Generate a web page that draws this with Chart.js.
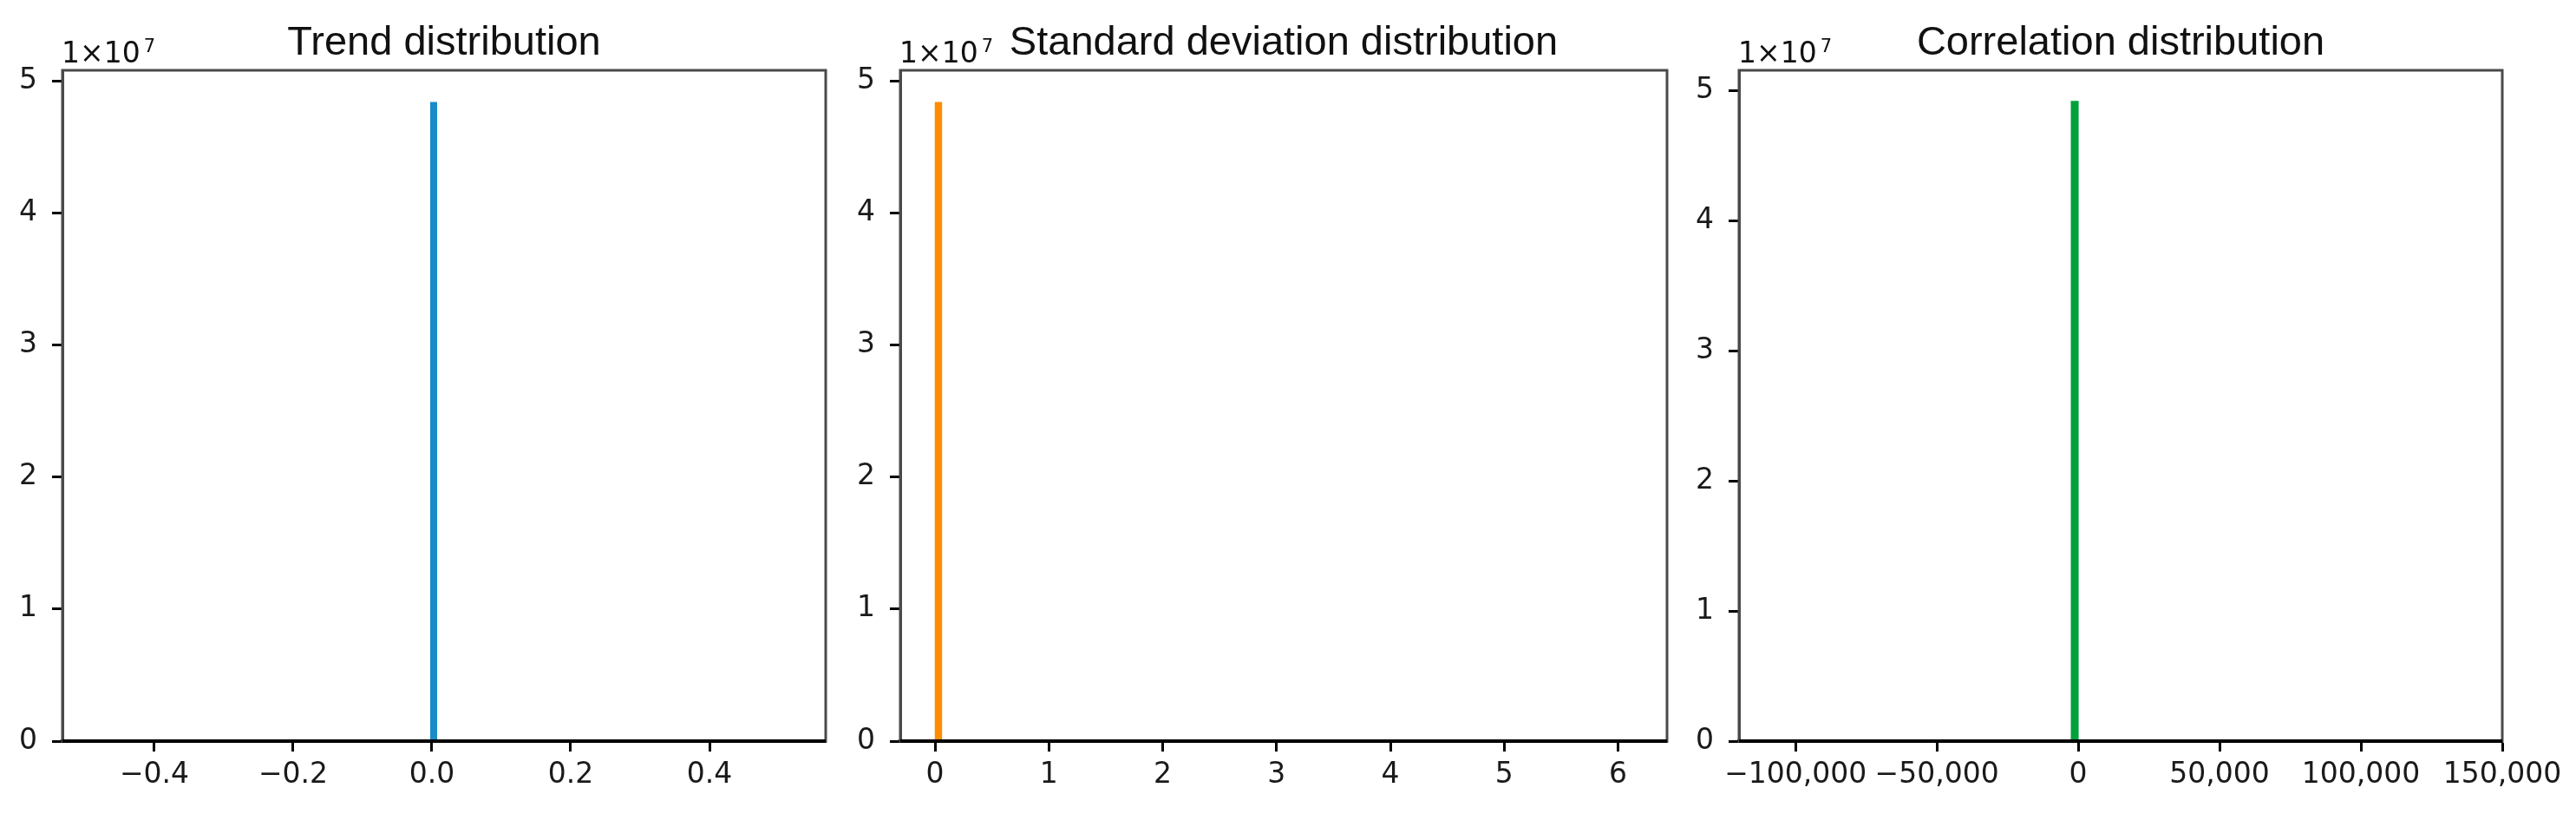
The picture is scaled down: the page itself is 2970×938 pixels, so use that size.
<!DOCTYPE html>
<html>
<head>
<meta charset="utf-8">
<script src="https://cdn.jsdelivr.net/npm/chart.js@4.4.1/dist/chart.umd.min.js"></script>
<style>
html, body { margin: 0; padding: 0; background: #fff; }
body { width: 2970px; height: 938px; position: relative; overflow: hidden; }
.panel { position: absolute; top: 0; height: 938px; }
</style>
</head>
<body>
<div class="panel" style="left:0px;width:990px"><canvas id="trendPlot"></canvas></div>
<div class="panel" style="left:966px;width:994px"><canvas id="stdPlot"></canvas></div>
<div class="panel" style="left:1933px;width:1037px"><canvas id="corrPlot"></canvas></div>
<script>
// Histogram bins (only the non empty bin of each histogram)
var trendBinStarts = [-0.0025];
var trendBinEnds = [0.0075];
var trendCounts = [48400000];

var stdBinStarts = [-0.004];
var stdBinEnds = [0.064];
var stdCounts = [48400000];

var corrBinStarts = [-2700];
var corrBinEnds = [200];
var corrCounts = [49200000];

// Tick labels
var trendTicks = [-0.4, -0.2, 0, 0.2, 0.4];
var stdTicks = [0, 1, 2, 3, 4, 5, 6];
var corrTicks = [-100000, -50000, 0, 50000, 100000, 150000];
var countTicks = [0, 1e7, 2e7, 3e7, 4e7, 5e7];

// Axis limits
var trendRange = [-0.5325, 0.5675];
var stdRange = [-0.305, 6.43];
var corrRange = [-120000, 150000];
var trendCountMax = 5.08e7;
var stdCountMax = 5.08e7;
var corrCountMax = 5.155e7;

var TICK_FONT = { family: "'DejaVu Sans'", size: 33 };

function _histPoints(starts, ends, counts)
{
    var points = [];
    for (var i = 0; i < counts.length; i++) {
        points.push({x: starts[i], y: 0});
        points.push({x: starts[i], y: counts[i]});
        points.push({x: ends[i], y: counts[i]});
        points.push({x: ends[i], y: 0});
    }
    return points;
}

function _minus(s)
{
    return String(s).replace('-', '\u2212');
}

var framePlugin = {
    id: 'frame',
    afterDraw: function(chart) {
        var ctx = chart.ctx;
        var a = chart.chartArea;
        var title = chart.options.plugins.frame.title;
        ctx.save();
        ctx.strokeStyle = '#4a4a4a';
        ctx.lineWidth = 3;
        ctx.strokeRect(a.left, a.top, a.right - a.left, a.bottom - a.top);
        ctx.strokeStyle = '#000';
        ctx.lineWidth = 4;
        ctx.beginPath();
        ctx.moveTo(a.left, a.bottom);
        ctx.lineTo(a.right, a.bottom);
        ctx.stroke();

        ctx.fillStyle = '#111';
        ctx.font = "47px 'Liberation Sans'";
        ctx.textAlign = 'center';
        ctx.textBaseline = 'alphabetic';
        ctx.fillText(title, (a.left + a.right) / 2, 63);

        ctx.textAlign = 'left';
        ctx.font = "33px 'DejaVu Sans'";
        ctx.fillText('1\u00d710', a.left - 1, 72);
        var w = ctx.measureText('1\u00d710').width;
        ctx.font = "21px 'DejaVu Sans'";
        ctx.fillText('7', a.left - 1 + w + 4, 60);
        ctx.restore();
    }
};

function _generateHistogram(canvasId, title, points, color, xRange, xTicks, xFormat, yMax, rightPad)
{
    new Chart(document.getElementById(canvasId), {
        type: 'line',
        data: {
            datasets: [{
                data: points,
                borderWidth: 0,
                borderColor: color,
                backgroundColor: color,
                pointRadius: 0,
                fill: 'origin',
                tension: 0
            }]
        },
        options: {
            responsive: true,
            maintainAspectRatio: false,
            devicePixelRatio: 1,
            animation: false,
            layout: { padding: { top: 81, right: rightPad, left: 0, bottom: 0 } },
            plugins: {
                legend: { display: false },
                tooltip: { enabled: false },
                frame: { title: title }
            },
            scales: {
                x: {
                    type: 'linear',
                    min: xRange[0],
                    max: xRange[1],
                    afterBuildTicks: function(scale) {
                        scale.ticks = xTicks.map(function(v) { return {value: v}; });
                    },
                    afterFit: function(scale) { scale.height = 84; },
                    grid: { drawOnChartArea: false, drawTicks: true, tickLength: 12, tickWidth: 3, tickColor: '#000' },
                    border: { display: true, color: '#000', width: 4 },
                    ticks: {
                        font: TICK_FONT,
                        color: '#1a1a1a',
                        padding: 8,
                        maxRotation: 0,
                        autoSkip: false,
                        callback: xFormat
                    }
                },
                y: {
                    type: 'linear',
                    min: 0,
                    max: yMax,
                    afterBuildTicks: function(scale) {
                        scale.ticks = countTicks.map(function(v) { return {value: v}; });
                    },
                    afterFit: function(scale) { scale.width = 72; },
                    grid: { drawOnChartArea: false, drawTicks: true, tickLength: 12, tickWidth: 3, tickColor: '#000' },
                    border: { display: true, color: '#4a4a4a', width: 3 },
                    ticks: {
                        font: TICK_FONT,
                        color: '#1a1a1a',
                        padding: 17,
                        autoSkip: false,
                        callback: function(v) { return String(Math.round(v / 1e7)); }
                    }
                }
            }
        },
        plugins: [framePlugin]
    });
}

_generateHistogram('trendPlot', 'Trend distribution',
    _histPoints(trendBinStarts, trendBinEnds, trendCounts), '#1a8bc9',
    trendRange, trendTicks, function(v) { return _minus(v.toFixed(1)); }, trendCountMax, 38);

_generateHistogram('stdPlot', 'Standard deviation distribution',
    _histPoints(stdBinStarts, stdBinEnds, stdCounts), '#ff8c00',
    stdRange, stdTicks, function(v) { return String(Math.round(v)); }, stdCountMax, 38);

_generateHistogram('corrPlot', 'Correlation distribution',
    _histPoints(corrBinStarts, corrBinEnds, corrCounts), '#00a03c',
    corrRange, corrTicks, function(v) { return _minus(v.toLocaleString('en-US')); }, corrCountMax, 85);
</script>
</body>
</html>
